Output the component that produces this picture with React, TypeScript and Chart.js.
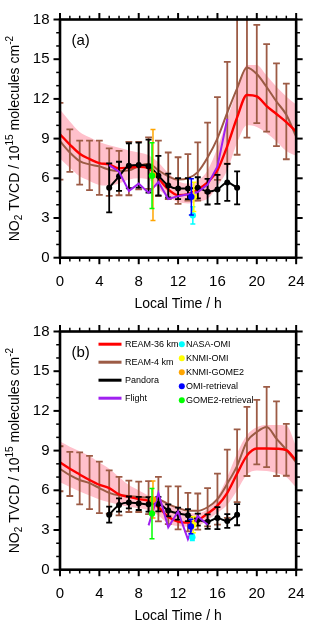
import React, { useEffect, useRef } from "react";
import { Chart, registerables } from "chart.js";

Chart.register(...registerables);

const FONT = "'Liberation Sans', Arial, Helvetica, sans-serif";

// ---------- data ----------
const HOURS = [0, 1, 2, 3, 4, 5, 6, 7, 8, 9, 10, 11, 12, 13, 14, 15, 16, 17, 18, 19, 20, 21, 22, 23, 24];
const X_TICKS = [0, 4, 8, 12, 16, 20, 24];
const Y_TICKS = [0, 3, 6, 9, 12, 15, 18];

// Panel (a)
const RED_A = [9.33, 8.55, 7.85, 7.46, 7.15, 7.05, 6.76, 6.81, 6.86, 6.74, 6.0, 5.16, 4.72, 4.8, 5.16, 5.7, 6.61, 8.43, 10.6, 12.3, 12.19, 11.46, 10.86, 10.25, 9.52];
const PINK_UP_A = [11.2, 10.3, 9.5, 9.1, 8.75, 8.5, 8.3, 8.1, 7.95, 7.75, 7.2, 6.4, 5.8, 5.6, 5.8, 6.6, 8.3, 10.5, 12.67, 14.56, 14.56, 13.76, 12.91, 12.19, 11.58];
const PINK_LO_A = [7.5, 6.8, 6.15, 5.8, 5.5, 5.45, 5.6, 5.9, 6.0, 5.9, 5.2, 4.6, 4.2, 4.1, 4.25, 4.45, 5.4, 6.6, 8.68, 10.0, 9.88, 9.4, 8.79, 8.07, 7.7];
const BROWN_A = [8.8, 7.95, 7.3, 7.05, 6.9, 6.65, 6.55, 6.6, 6.93, 7.1, 6.6, 6.15, 5.9, 6.0, 6.47, 7.57, 9.02, 10.96, 12.8, 14.37, 13.88, 12.9, 11.8, 10.8, 9.15];
const BROWN_HI_A = [11.7, 9.69, 8.84, 8.84, 8.84, 8.26, 8.07, 8.75, 8.75, 9.1, 8.84, 7.95, 7.59, 7.83, 8.72, 10.2, 12.14, 14.8, 18.6, 19.5, 17.59, 16.14, 14.68, 13.15, null];
const BROWN_LO_A = [5.9, 6.49, 5.52, 5.11, 4.75, 4.67, 4.72, 4.72, 5.16, 5.2, 4.67, 4.43, 4.07, 4.31, 4.31, 4.9, 5.88, 7.1, 7.78, 9.08, 10.17, 9.52, 8.43, 7.44, null];
const PANDORA_HOURS = [5, 6, 7, 8, 9, 10, 11, 12, 13, 14, 15, 16, 17, 18];
const PANDORA_A = [5.28, 6.15, 6.95, 7.0, 6.92, 6.2, 5.45, 5.22, 5.22, 5.28, 4.99, 5.16, 5.69, 5.28];
const PANDORA_ERR_A = [1.85, 1.1, 1.7, 1.7, 2.0, 1.5, 0.9, 0.8, 0.8, 0.8, 0.97, 1.1, 1.4, 1.25];
const FLIGHT_HOURS_A = [5, 6, 7, 8, 9, 10, 11, 12, 13, 14, 15, 16, 17];
const FLIGHT_A = [7.0, 6.5, 5.05, 5.6, 4.9, 5.72, 4.43, 4.65, 4.79, 4.96, 5.52, 6.9, 10.5];

// Panel (b)
const RED_B = [8.11, 7.63, 7.2, 6.78, 6.42, 6.17, 5.69, 5.5, 5.33, 5.2, 4.72, 4.0, 3.63, 3.56, 3.75, 4.24, 4.84, 5.81, 7.26, 8.62, 9.16, 9.16, 9.14, 9.04, 8.24];
const PINK_UP_B = [9.69, 9.3, 8.95, 8.6, 8.1, 7.63, 7.0, 6.4, 6.0, 5.6, 5.4, 5.08, 4.6, 4.3, 4.25, 4.6, 5.5, 7.0, 8.8, 10.17, 10.77, 10.94, 10.94, 10.9, 9.32];
const PINK_LO_B = [6.6, 6.25, 5.9, 5.6, 5.3, 5.1, 4.9, 4.75, 4.65, 4.5, 4.1, 3.5, 3.3, 3.25, 3.3, 3.75, 4.3, 4.9, 6.0, 7.2, 7.5, 7.45, 7.3, 7.0, 6.2];
const BROWN_B = [7.63, 7.14, 6.78, 6.54, 6.17, 5.81, 5.62, 5.57, 5.5, 5.45, 5.33, 4.96, 4.67, 4.45, 4.45, 4.72, 5.33, 6.5, 7.85, 9.69, 10.4, 10.78, 9.9, 9.06, 8.1];
const BROWN_HI_B = [9.33, 8.91, 8.87, 8.6, 8.17, 7.5, 7.02, 6.73, 6.66, 6.7, 7.02, 6.3, 6.3, 5.81, 5.76, 6.17, 7.26, 9.08, 10.61, 12.3, 12.84, 13.81, 12.72, 11.02, null];
const BROWN_LO_B = [5.93, 5.57, 4.94, 4.58, 4.28, 4.24, 4.1, 4.36, 4.36, 4.2, 3.65, 3.44, 3.05, 2.9, 3.03, 3.27, 3.4, 3.92, 5.1, 7.08, 7.96, 7.75, 7.08, 7.1, null];
const PANDORA_B = [4.16, 4.89, 5.08, 5.01, 4.94, 4.96, 4.48, 4.24, 4.12, 3.78, 3.63, 3.9, 3.68, 4.16];
const PANDORA_ERR_B = [0.6, 0.5, 0.45, 0.5, 0.55, 0.55, 0.45, 0.45, 0.45, 0.45, 0.55, 0.83, 0.52, 0.8];
const FLIGHT_HOURS_B = [9, 10, 11, 12, 13, 14, 15];
const FLIGHT_B = [3.35, 5.8, 3.2, 4.4, 2.3, 4.05, 3.4];

// Satellites: NASA-OMI, KNMI-OMI, KNMI-GOME2, OMI-retrieval, GOME2-retrieval
const SAT_NAMES = ["NASA-OMI", "KNMI-OMI", "KNMI-GOME2", "OMI-retrieval", "GOME2-retrieval"];
const SAT_COLORS = ["#00ffff", "#ffff00", "#ffa500", "#0000ff", "#00ff00"];
const SAT_X_A = [13.5, 13.6, 9.45, 13.35, 9.35];
const SAT_Y_A = [3.2, 4.6, 6.25, 4.6, 6.2];
const SAT_ERR_A = [0.65, 1.1, 3.44, 1.37, 2.48];
const SAT_X_B = [13.45, 13.55, 9.45, 13.3, 9.35];
const SAT_Y_B = [2.45, 3.4, 5.3, 3.27, 4.24];
const SAT_ERR_B = [0.25, 0.6, 1.4, 0.55, 1.9];

const LINE_NAMES = ["REAM-36 km", "REAM-4 km", "Pandora", "Flight"];
const RED = "#ff0000";
const BROWN = "#9c5b45";
const PINK = "#ffc0cb";
const BLACK = "#000000";
const PURPLE = "#a020f0";
const LINE_COLORS = [RED, BROWN, BLACK, PURPLE];

type PanelData = {
  label: string;
  red: number[];
  pinkUp: number[];
  pinkLo: number[];
  brown: number[];
  brownHi: (number | null)[];
  brownLo: (number | null)[];
  pandora: number[];
  pandoraErr: number[];
  flightHours: number[];
  flight: number[];
  satX: number[];
  satY: number[];
  satErr: number[];
  legend: boolean;
};

const PANEL_A: PanelData = {
  label: "(a)", red: RED_A, pinkUp: PINK_UP_A, pinkLo: PINK_LO_A, brown: BROWN_A,
  brownHi: BROWN_HI_A, brownLo: BROWN_LO_A, pandora: PANDORA_A, pandoraErr: PANDORA_ERR_A,
  flightHours: FLIGHT_HOURS_A, flight: FLIGHT_A, satX: SAT_X_A, satY: SAT_Y_A, satErr: SAT_ERR_A, legend: false,
};
const PANEL_B: PanelData = {
  label: "(b)", red: RED_B, pinkUp: PINK_UP_B, pinkLo: PINK_LO_B, brown: BROWN_B,
  brownHi: BROWN_HI_B, brownLo: BROWN_LO_B, pandora: PANDORA_B, pandoraErr: PANDORA_ERR_B,
  flightHours: FLIGHT_HOURS_B, flight: FLIGHT_B, satX: SAT_X_B, satY: SAT_Y_B, satErr: SAT_ERR_B, legend: true,
};

const xy = (xs: number[], ys: number[]) => xs.map((x, i) => ({ x, y: ys[i] }));

// ---------- plugins ----------
const errorBarPlugin = {
  id: "errbars",
  beforeDatasetDraw(chart: any, args: any) {
    const ds = chart.data.datasets[args.index];
    if (!ds.errLo) return;
    const { ctx, chartArea: a, scales } = chart;
    const xs = scales.x;
    const ys = scales.y;
    ctx.save();
    ctx.beginPath();
    ctx.rect(a.left, a.top, a.right - a.left, a.bottom - a.top);
    ctx.clip();
    ctx.strokeStyle = ds.errColor;
    ctx.lineWidth = ds.errWidth;
    ctx.lineCap = "butt";
    const cap = ds.errCap;
    ds.data.forEach((p: any, i: number) => {
      const lo = ds.errLo[i];
      const hi = ds.errHi[i];
      if (lo == null || hi == null) return;
      const px = xs.getPixelForValue(p.x);
      const pl = ys.getPixelForValue(lo);
      const ph = ys.getPixelForValue(hi);
      ctx.beginPath();
      ctx.moveTo(px, pl);
      ctx.lineTo(px, ph);
      ctx.moveTo(px - cap, pl);
      ctx.lineTo(px + cap, pl);
      ctx.moveTo(px - cap, ph);
      ctx.lineTo(px + cap, ph);
      ctx.stroke();
    });
    ctx.restore();
  },
};

function drawYTitle(ctx: CanvasRenderingContext2D, bx: number, cy: number) {
  const parts = [
    { t: "NO", s: 14, dy: 0 },
    { t: "2", s: 10, dy: 3.5 },
    { t: " TVCD / 10", s: 14, dy: 0 },
    { t: "15", s: 10, dy: -6 },
    { t: " molecules cm", s: 14, dy: 0 },
    { t: "-2", s: 10, dy: -6 },
  ];
  ctx.save();
  ctx.fillStyle = "#000";
  ctx.textBaseline = "alphabetic";
  ctx.textAlign = "left";
  let total = 0;
  const widths = parts.map((p) => {
    ctx.font = `${p.s}px ${FONT}`;
    const w = ctx.measureText(p.t).width;
    total += w;
    return w;
  });
  ctx.translate(bx, cy);
  ctx.rotate(-Math.PI / 2);
  let x = -total / 2;
  parts.forEach((p, i) => {
    ctx.font = `${p.s}px ${FONT}`;
    ctx.fillText(p.t, x, p.dy);
    x += widths[i];
  });
  ctx.restore();
}

function makeFramePlugin(panel: PanelData) {
  return {
    id: "frameTicks",
    afterDraw(chart: any) {
      const { ctx, chartArea: a, scales } = chart;
      const xs = scales.x;
      const ys = scales.y;
      ctx.save();
      ctx.strokeStyle = "#000";
      const seg = (x1: number, y1: number, x2: number, y2: number) => {
        ctx.beginPath();
        ctx.moveTo(x1, y1);
        ctx.lineTo(x2, y2);
        ctx.stroke();
      };
      HOURS.forEach((h) => {
        const px = xs.getPixelForValue(h);
        const major = X_TICKS.includes(h);
        const len = major ? 6.5 : 3.8;
        ctx.lineWidth = major ? 2 : 1.5;
        seg(px, a.bottom, px, a.bottom + len);
        seg(px, a.top, px, a.top - len);
      });
      for (let v = 0; v <= 18; v++) {
        const py = ys.getPixelForValue(v);
        const major = Y_TICKS.includes(v);
        const len = major ? 6.5 : 3.8;
        ctx.lineWidth = major ? 2 : 1.5;
        seg(a.left, py, a.left - len, py);
        seg(a.right, py, a.right + len, py);
      }
      ctx.lineWidth = 2.6;
      ctx.strokeRect(a.left, a.top, a.right - a.left, a.bottom - a.top);

      // panel label
      ctx.fillStyle = "#000";
      ctx.font = `15px ${FONT}`;
      ctx.textAlign = "left";
      ctx.textBaseline = "middle";
      ctx.fillText(panel.label, a.left + 11.5, a.top + 21.5);

      drawYTitle(ctx, 18.5, (a.top + a.bottom) / 2);

      if (panel.legend) {
        ctx.font = `9px ${FONT}`;
        ctx.textBaseline = "middle";
        LINE_NAMES.forEach((name, i) => {
          const yy = a.top + 12.7 + i * 18;
          ctx.strokeStyle = LINE_COLORS[i];
          ctx.lineWidth = 3;
          seg(98.5, yy, 121.5, yy);
          ctx.fillStyle = "#000";
          ctx.fillText(name, 125, yy);
        });
        SAT_NAMES.forEach((name, i) => {
          const yy = a.top + 12.7 + i * 14;
          ctx.fillStyle = SAT_COLORS[i];
          ctx.beginPath();
          ctx.arc(181.8, yy, 3, 0, Math.PI * 2);
          ctx.fill();
          ctx.fillStyle = "#000";
          ctx.fillText(name, 186, yy);
        });
      }
      ctx.restore();
    },
  };
}

function buildConfig(panel: PanelData): any {
  const datasets: any[] = [];
  datasets.push({
    data: xy(HOURS, panel.pinkUp), fill: "+1", backgroundColor: PINK, borderColor: "rgba(0,0,0,0)",
    borderWidth: 0, pointRadius: 0, cubicInterpolationMode: "monotone", order: 20,
  });
  datasets.push({
    data: xy(HOURS, panel.pinkLo), fill: false, backgroundColor: PINK, borderColor: "rgba(0,0,0,0)",
    borderWidth: 0, pointRadius: 0, cubicInterpolationMode: "monotone", order: 19,
  });
  datasets.push({
    data: xy(HOURS, panel.brown), borderColor: BROWN, borderWidth: 2, pointRadius: 0, fill: false,
    cubicInterpolationMode: "monotone", order: 15,
    errLo: panel.brownLo, errHi: panel.brownHi, errColor: BROWN, errWidth: 1.8, errCap: 3.4,
  });
  datasets.push({
    data: xy(HOURS, panel.red), borderColor: RED, borderWidth: 2.4, pointRadius: 0, fill: false,
    cubicInterpolationMode: "monotone", order: 14,
  });
  datasets.push({
    data: xy(PANDORA_HOURS, panel.pandora), borderColor: BLACK, borderWidth: 2, fill: false,
    pointRadius: 3, pointBackgroundColor: BLACK, pointBorderWidth: 0, cubicInterpolationMode: "monotone", order: 12,
    errLo: panel.pandora.map((v, i) => v - panel.pandoraErr[i]),
    errHi: panel.pandora.map((v, i) => v + panel.pandoraErr[i]),
    errColor: BLACK, errWidth: 1.8, errCap: 3,
  });
  datasets.push({
    data: xy(panel.flightHours, panel.flight), borderColor: PURPLE, borderWidth: 2, pointRadius: 0,
    fill: false, tension: 0, order: 11,
  });
  SAT_NAMES.forEach((_, i) => {
    datasets.push({
      data: [{ x: panel.satX[i], y: panel.satY[i] }], showLine: false, borderColor: SAT_COLORS[i],
      pointRadius: 3.2, pointBackgroundColor: SAT_COLORS[i], pointBorderWidth: 0, fill: false, order: 9 - i,
      errLo: [panel.satY[i] - panel.satErr[i]], errHi: [panel.satY[i] + panel.satErr[i]],
      errColor: SAT_COLORS[i], errWidth: 1.5, errCap: 2.5,
    });
  });

  return {
    type: "line",
    data: { datasets },
    options: {
      animation: false,
      responsive: false,
      events: [],
      layout: { padding: { top: 10, right: 10, left: 0, bottom: 0 } },
      plugins: { legend: { display: false }, tooltip: { enabled: false }, title: { display: false } },
      scales: {
        x: {
          type: "linear", min: 0, max: 24, position: "bottom",
          ticks: { stepSize: 4, font: { family: FONT, size: 15 }, color: "#000", padding: 15.5, maxRotation: 0, autoSkip: false },
          grid: { display: false, drawTicks: false },
          border: { display: false },
          title: { display: true, text: "Local Time / h", font: { family: FONT, size: 14 }, color: "#000", padding: { top: 0, bottom: -1 } },
          afterFit: (s: any) => { s.height = 54.3; },
        },
        y: {
          type: "linear", min: 0, max: 18, position: "left",
          ticks: { stepSize: 3, font: { family: FONT, size: 15 }, color: "#000", padding: 10.5 },
          grid: { display: false, drawTicks: false },
          border: { display: false },
          afterFit: (s: any) => { s.width = 60; },
        },
      },
    },
    plugins: [errorBarPlugin, makeFramePlugin(panel)],
  };
}

function PanelChart({ panel, top }: { panel: PanelData; top: number }) {
  const ref = useRef<HTMLCanvasElement | null>(null);
  useEffect(() => {
    if (!ref.current) return;
    const chart = new Chart(ref.current, buildConfig(panel));
    return () => chart.destroy();
  }, [panel]);
  return (
    <div style={{ position: "absolute", left: 0, top, width: 320, height: 312 }}>
      <canvas ref={ref} width={320} height={312} style={{ width: 320, height: 312, display: "block" }} />
    </div>
  );
}

export default function App() {
  return (
    <div style={{ position: "absolute", left: 0, top: 0, width: 320, height: 624, background: "#fff", overflow: "hidden" }}>
      <PanelChart panel={PANEL_A} top={0} />
      <PanelChart panel={PANEL_B} top={312} />
    </div>
  );
}
